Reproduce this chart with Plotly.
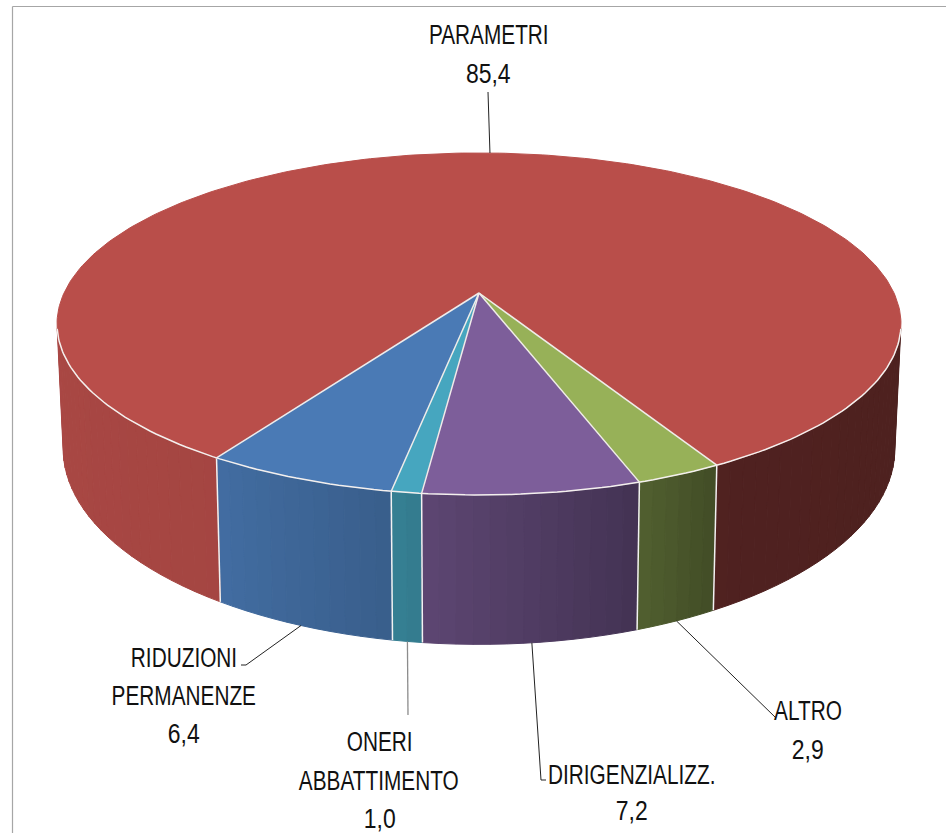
import numpy as np
import plotly.graph_objects as go

# --- data ---
categories = ["RIDUZIONI<br>PERMANENZE", "ONERI<br>ABBATTIMENTO", "DIRIGENZIALIZZ.", "ALTRO", "PARAMETRI"]
values = [6.4, 1.0, 7.2, 2.9, 85.4]
top_colors = ["#4A7AB5", "#46A6BF", "#7D5E9A", "#97B158", "#B94E4A"]

# --- pseudo-3D projection (pixel space, y down) ---
W, H = 946, 833
CX, CY = 479, 293
K = 0.181
AY, BX = 165.4, 415.0
CYB, AYB, BXB = 413.0, 189.5, 409.0
START = -32.4

def top(t):
    t = np.radians(t); u, v = np.sin(t), np.cos(t); d = 1 - K * v
    return CX + BX * u / d, CY + AY * v / d

def bot(t):
    t = np.radians(t); u, v = np.sin(t), np.cos(t); d = 1 - K * v
    return CX + BXB * u / d, CYB + AYB * v / d

sweeps = np.array(values) / sum(values) * 360
starts = START + np.concatenate([[0], np.cumsum(sweeps)[:-1]])
mids = starts + sweeps / 2

def shade(t):
    t = (t + 180) % 360 - 180
    return np.interp(t, [-105, -32, -10, 18.6, 29, 105], [0.93, 0.89, 0.77, 0.54, 0.43, 0.41])

def mix(c, f):
    r, g, b = int(c[1:3], 16), int(c[3:5], 16), int(c[5:7], 16)
    return f"rgb({round(r*f)},{round(g*f)},{round(b*f)})"

fig = go.Figure()

def poly(x, y, fill):
    fig.add_trace(go.Scatter(x=x, y=y, mode="lines", fill="toself", fillcolor=fill,
                             line=dict(color=fill, width=1), hoverinfo="skip", showlegend=False))

def stroke(x, y, color, width):
    fig.add_trace(go.Scatter(x=x, y=y, mode="lines", line=dict(color=color, width=width),
                             hoverinfo="skip", showlegend=False))

VIS = 78.0
STEP = 2.0
for s, w, c in zip(starts, sweeps, top_colors):
    e = s + w
    for shift in (0, -360):
        a, b = max(s + shift, -VIS), min(e + shift, VIS)
        if b <= a:
            continue
        n = max(1, int(np.ceil((b - a) / STEP)))
        edges = np.linspace(a, b, n + 1)
        for t0, t1 in zip(edges[:-1], edges[1:]):
            tt = np.array([t0, t1])
            x0, y0 = top(tt); x1, y1 = bot(tt)
            poly(np.r_[x0, x1[::-1], x0[0]], np.r_[y0, y1[::-1], y0[0]], mix(c, shade((t0 + t1) / 2)))

# boundaries on the side wall
for s in starts:
    t = (s + 180) % 360 - 180
    x0, y0 = top(t); x1, y1 = bot(t)
    stroke([x0, x1], [y0, y1], "#F2F2F2", 1.5)

# top wedges, largest first
for i in [4, 0, 1, 2, 3]:
    tt = np.linspace(starts[i], starts[i] + sweeps[i], max(3, int(sweeps[i])))
    x, y = top(tt)
    poly(np.r_[CX, x, CX], np.r_[CY, y, CY], top_colors[i])

# white radial edges and front rim
for s in starts:
    x, y = top(s)
    stroke([CX, x], [CY, y], "#F0ECEA", 1.5)
tt = np.linspace(-VIS, VIS, 150)
x, y = top(tt)
stroke(x, y, "#F4F0EE", 1.5)

# leader lines: start at slice midpoint, end at the label
ends = [[(246, 665), (241, 665)], [(408, 715)], [(541, 780), (546, 780)], [(776, 718)], [(488, 92)]]
lcol = ["#222222", "#8C8C8C", "#222222", "#222222", "#222222"]
for i, e in enumerate(ends):
    px, py = (top(mids[i]) if i == 4 else bot(mids[i]))
    stroke([px] + [p[0] for p in e], [py] + [p[1] for p in e], lcol[i], 1.3 if i == 1 else 1)

# labels, one line at a time
label_pos = [[(184, 658), (184, 696), (184, 734)], [(380, 742), (379, 781), (380, 819)],
             [(632, 775), (632, 811)], [(808, 711), (808, 750)], [(489, 35), (488, 74)]]
for name, val, pos in zip(categories, values, label_pos):
    lines = name.split("<br>") + [f"{val:.1f}".replace(".", ",")]
    for txt, (lx, ly) in zip(lines, pos):
        fig.add_annotation(x=lx, y=ly, text=txt, showarrow=False, xanchor="center", yanchor="middle",
                           font=dict(family="Liberation Sans", size=27, color="#111111"))

frame = dict(color="#A6A6A6", width=1.2)
fig.add_shape(type="line", x0=12.5, x1=946, y0=6.5, y1=6.5, line=frame)
fig.add_shape(type="line", x0=12.5, x1=12.5, y0=6.5, y1=833, line=frame)

fig.update_layout(width=W, height=H, margin=dict(l=0, r=0, t=0, b=0), paper_bgcolor="white", plot_bgcolor="white",
                  showlegend=False,
                  xaxis=dict(range=[0, W], visible=False, fixedrange=True),
                  yaxis=dict(range=[H, 0], visible=False, fixedrange=True))

# squeeze glyphs horizontally: the source uses a condensed face
squeeze = """
document.body.style.margin='0';document.body.style.overflow='hidden';
document.querySelectorAll('.annotation-text').forEach(function(t){
  var w=t.getComputedTextLength();
  var f=/^[0-9]/.test(t.textContent)?0.85:0.77;
  t.setAttribute('lengthAdjust','spacingAndGlyphs');
  t.setAttribute('textLength',(w*f).toFixed(1));
});
"""
fig.write_html("out.html", post_script=squeeze, config=dict(displayModeBar=False))
